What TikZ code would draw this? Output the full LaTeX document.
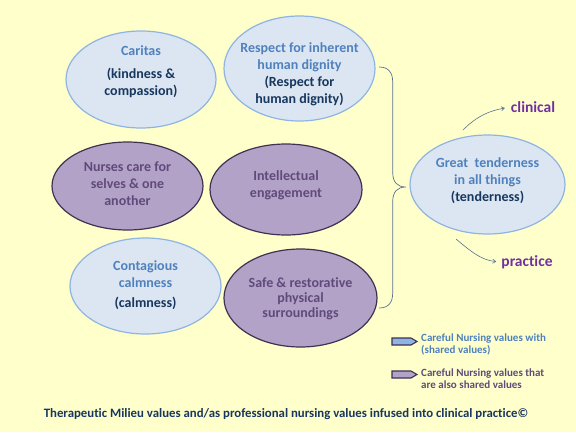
\documentclass[tikz,border=0pt]{standalone}
\usepackage{fontspec}
\setmainfont{Carlito}[Ligatures=NoCommon]
\usetikzlibrary{shapes.geometric,arrows.meta}
\definecolor{bgyellow}{HTML}{FFFFCC}
\definecolor{bluefill}{HTML}{DCE6F2}
\definecolor{blueline}{HTML}{8EB4E3}
\definecolor{bluetext}{HTML}{4F81BD}
\definecolor{navytext}{HTML}{17375E}
\definecolor{purpfill}{HTML}{B3A2C7}
\definecolor{purpline}{HTML}{403152}
\definecolor{purptext}{HTML}{604A7B}
\definecolor{violet}{HTML}{7030A0}
\definecolor{bracecol}{HTML}{5A7290}
\definecolor{legblue}{HTML}{8EB4E3}
\tikzset{
  x=1pt, y=-1pt,
  blueell/.style={ellipse, draw=blueline, fill=bluefill, line width=1.2pt, inner sep=0pt},
  purpell/.style={ellipse, draw=purpline, fill=purpfill, line width=1.2pt, inner sep=0pt},
  btext/.style={align=center, inner sep=0pt, font=\bfseries\fontsize{14}{17}\selectfont},
  ptext/.style={align=center, inner sep=0pt, text=purptext, font=\bfseries\fontsize{14}{17}\selectfont},
  outtext/.style={inner sep=0pt, text=violet, font=\bfseries\fontsize{15.5}{17}\selectfont},
  curvarrow/.style={draw=bracecol, line width=0.6pt, -{Straight Barb[length=3pt,width=4pt]}},
  legtext/.style={anchor=west, align=left, inner sep=0pt, font=\bfseries\fontsize{11}{12}\selectfont},
}
\begin{document}
\begin{tikzpicture}
\fill[bgyellow] (0,0) rectangle (576,432);
\useasboundingbox (0,0) rectangle (576,432);

% ellipses
\node[blueell, minimum width=150pt, minimum height=97pt] (caritas) at (141,79.5) {};
\node[blueell, minimum width=151pt, minimum height=105pt] (respect) at (299.5,68.5) {};
\node[purpell, minimum width=151pt, minimum height=88pt] (nurses) at (127.5,186) {};
\node[purpell, minimum width=152pt, minimum height=91pt] (intel) at (286,189.5) {};
\node[blueell, minimum width=151pt, minimum height=96pt] (calm) at (145.5,286) {};
\node[purpell, minimum width=153pt, minimum height=98pt] (safe) at (300.5,298) {};
\node[blueell, minimum width=155pt, minimum height=99pt] (tender) at (487.5,184.5) {};

% texts
\node[btext] (tcaritas) at (141,72) {\textcolor{bluetext}{Caritas}\\[6pt]\textcolor{navytext}{(kindness \&}\\\textcolor{navytext}{compassion)}};
\node[btext] (trespect) at (299.5,74) {\textcolor{bluetext}{Respect for inherent}\\\textcolor{bluetext}{human dignity}\\\textcolor{navytext}{(Respect for}\\\textcolor{navytext}{human dignity)}};
\node[ptext] (tnurses) at (127.5,183.5) {Nurses care for\\selves \& one\\another};
\node[ptext] (tintel) at (286,185.5) {Intellectual\\engagement};
\node[btext] (tcalm) at (145.5,285) {\textcolor{bluetext}{Contagious}\\\textcolor{bluetext}{calmness}\\[3pt]\textcolor{navytext}{(calmness)}};
\node[ptext, font=\bfseries\fontsize{14}{15}\selectfont] (tsafe) at (300.5,299) {Safe \& restorative\\physical\\surroundings};
\node[btext] (ttender) at (487.5,181) {\textcolor{bluetext}{Great\ \ tenderness}\\\textcolor{bluetext}{in all things}\\\textcolor{navytext}{(tenderness)}};

% brace
\draw[bracecol, line width=0.7pt]
  (379,67) .. controls (388,67) and (392.7,72) .. (392.7,82)
  -- (392.7,172) .. controls (392.7,182) and (397,187) .. (406,187)
  .. controls (397,187) and (392.7,192) .. (392.7,202)
  -- (392.7,293) .. controls (392.7,303) and (388,308) .. (379,308);

% outputs
\node[outtext] (clinical) at (533,107) {clinical};
\node[outtext] (practice) at (527,262) {practice};
\coordinate (c1) at (463,130);
\coordinate (p1) at (456,239);
\draw[curvarrow, shorten >=6pt] (c1) to[out=45,in=190] (clinical.west);
\draw[curvarrow, shorten >=5pt] (p1) to[out=-40,in=175] (practice.west);

% legend
\draw[purpline, fill=legblue, line width=1.1pt] (392,338) -- (411,338) -- (417,341.5) -- (411,345) -- (392,345) -- cycle;
\draw[purpline, fill=purpfill, line width=1.1pt] (392,371) -- (411,371) -- (417,374.5) -- (411,378) -- (392,378) -- cycle;
\node[legtext, text=bluetext] (leg1) at (421,344) {Careful Nursing values with\\(shared values)};
\node[legtext, text=purptext] (leg2) at (421,378.5) {Careful Nursing values that\\are also shared values};

% caption
\node[inner sep=0pt, text=navytext, font=\bfseries\fontsize{12.8}{14}\selectfont] (caption) at (286,414) {Therapeutic Milieu values and/as professional nursing values infused into clinical practice©};
\end{tikzpicture}
\end{document}
